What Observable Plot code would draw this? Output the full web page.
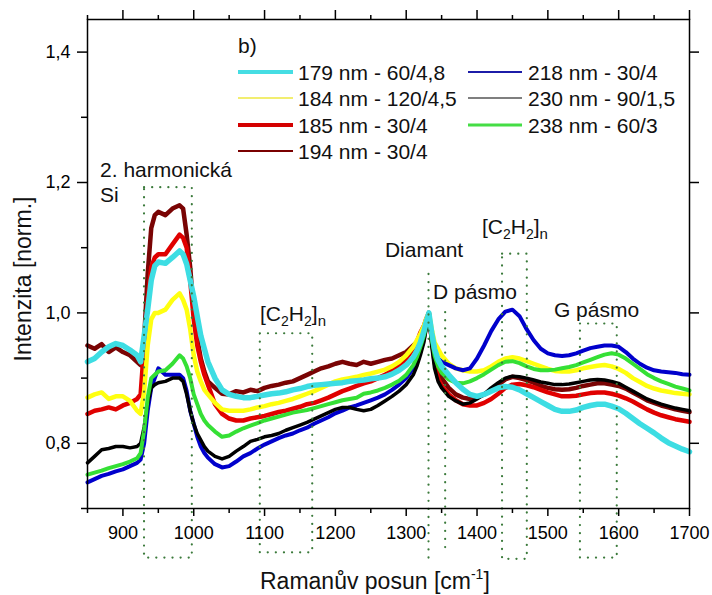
<!DOCTYPE html>
<html><head><meta charset="utf-8">
<script src="https://cdn.jsdelivr.net/npm/d3@7"></script>
<script src="https://cdn.jsdelivr.net/npm/@observablehq/plot@0.6"></script>
<style>
html,body{margin:0;padding:0;background:#fff;}
#chart{position:relative;width:712px;height:595px;overflow:hidden;}
svg{font-family:"Liberation Sans",Arial,sans-serif;}
</style></head><body><div id="chart"></div>
<script>
// Raman shift grid (cm^-1)
const ramanShift = [
  850, 860, 870, 880, 890, 900, 910, 920, 925, 930,
  935, 940, 945, 950, 960, 970, 980, 985, 990, 995,
  1000, 1005, 1010, 1015, 1020, 1030, 1040, 1050, 1060, 1070,
  1080, 1090, 1100, 1110, 1120, 1130, 1140, 1150, 1160, 1170,
  1180, 1190, 1200, 1210, 1220, 1230, 1240, 1250, 1260, 1270,
  1280, 1290, 1300, 1310, 1315, 1320, 1325, 1328, 1332, 1336,
  1340, 1345, 1350, 1360, 1370, 1380, 1390, 1400, 1410, 1420,
  1430, 1440, 1450, 1460, 1470, 1480, 1490, 1500, 1510, 1520,
  1530, 1540, 1550, 1560, 1570, 1580, 1590, 1600, 1610, 1620,
  1630, 1640, 1650, 1660, 1670, 1680, 1690, 1700];

const s179 = [
  0.925, 0.93, 0.94, 0.948, 0.953, 0.95, 0.943, 0.935, 0.925, 0.965,
  1.005, 1.05, 1.072, 1.078, 1.076, 1.085, 1.095, 1.09, 1.075, 1.05,
  1.025, 0.995, 0.965, 0.945, 0.925, 0.9, 0.882, 0.875, 0.872, 0.87,
  0.87, 0.872, 0.874, 0.876, 0.877, 0.879, 0.882, 0.884, 0.887, 0.889,
  0.89, 0.891, 0.892, 0.893, 0.895, 0.896, 0.897, 0.899, 0.9, 0.902,
  0.906, 0.912, 0.92, 0.932, 0.942, 0.955, 0.972, 0.985, 1.0, 0.97,
  0.945, 0.928, 0.918, 0.905, 0.893, 0.883, 0.875, 0.872, 0.875, 0.88,
  0.885, 0.887, 0.886, 0.882, 0.876, 0.87, 0.864, 0.858, 0.852, 0.849,
  0.849, 0.851, 0.855, 0.858, 0.86, 0.86, 0.857, 0.853, 0.846, 0.838,
  0.83, 0.823, 0.816, 0.808, 0.801, 0.796, 0.791, 0.787];

const s184 = [
  0.87, 0.875, 0.878, 0.868, 0.872, 0.872, 0.865, 0.85, 0.845, 0.88,
  0.95, 0.99, 1.0, 1.0, 1.005, 1.02, 1.03, 1.02, 1.005, 0.975,
  0.935, 0.91, 0.895, 0.882, 0.875, 0.862, 0.852, 0.85, 0.85, 0.85,
  0.852, 0.855, 0.857, 0.86, 0.862, 0.865, 0.868, 0.872, 0.876, 0.88,
  0.885, 0.89, 0.895, 0.898, 0.9, 0.902, 0.905, 0.907, 0.91, 0.913,
  0.918, 0.925, 0.935, 0.948, 0.958, 0.968, 0.98, 0.99, 1.0, 0.975,
  0.955, 0.945, 0.935, 0.922, 0.915, 0.912, 0.91, 0.91, 0.912, 0.918,
  0.925, 0.93, 0.932, 0.93, 0.926, 0.922, 0.918, 0.914, 0.911, 0.91,
  0.91, 0.912, 0.915, 0.917, 0.919, 0.92, 0.918, 0.914, 0.908, 0.9,
  0.894, 0.888, 0.884, 0.881, 0.879, 0.877, 0.876, 0.875];

const s185 = [
  0.845, 0.85, 0.852, 0.855, 0.852, 0.858, 0.862, 0.868, 0.875, 0.95,
  1.02, 1.07, 1.085, 1.09, 1.09, 1.105, 1.12, 1.115, 1.1, 1.05,
  0.99, 0.95, 0.925, 0.905, 0.89, 0.86, 0.845, 0.838, 0.835, 0.835,
  0.838, 0.84, 0.842, 0.845, 0.848, 0.85, 0.853, 0.856, 0.86, 0.862,
  0.866, 0.87, 0.875, 0.88, 0.884, 0.888, 0.892, 0.895, 0.9, 0.905,
  0.912, 0.92, 0.93, 0.945, 0.955, 0.97, 0.98, 0.99, 1.0, 0.96,
  0.925, 0.9, 0.888, 0.875, 0.866, 0.86, 0.858, 0.858, 0.862, 0.868,
  0.876, 0.885, 0.89, 0.891, 0.889, 0.886, 0.882, 0.878, 0.875, 0.872,
  0.872, 0.873, 0.875, 0.877, 0.878, 0.878, 0.876, 0.873, 0.869, 0.864,
  0.858, 0.852, 0.847, 0.843, 0.84, 0.837, 0.835, 0.833];

const s194 = [
  0.95, 0.945, 0.952, 0.94, 0.947, 0.94, 0.935, 0.925, 0.92, 0.96,
  1.06, 1.13, 1.15, 1.155, 1.15, 1.16, 1.165, 1.16, 1.12, 1.07,
  1.0, 0.96, 0.93, 0.91, 0.895, 0.885, 0.876, 0.875, 0.88, 0.878,
  0.882, 0.88, 0.885, 0.888, 0.89, 0.893, 0.895, 0.9, 0.905, 0.91,
  0.915, 0.918, 0.922, 0.925, 0.922, 0.92, 0.925, 0.922, 0.925, 0.928,
  0.93, 0.935, 0.94, 0.95, 0.955, 0.965, 0.975, 0.985, 1.0, 0.96,
  0.93, 0.91, 0.9, 0.885, 0.875, 0.87, 0.868, 0.87, 0.875, 0.882,
  0.89, 0.898, 0.902, 0.9, 0.897, 0.893, 0.888, 0.885, 0.883, 0.882,
  0.883, 0.885, 0.888, 0.89, 0.892, 0.892, 0.89, 0.888, 0.884, 0.878,
  0.872, 0.866, 0.862, 0.858, 0.855, 0.852, 0.85, 0.848];

const s218 = [
  0.74, 0.745, 0.75, 0.753, 0.757, 0.76, 0.765, 0.77, 0.775, 0.8,
  0.85, 0.885, 0.9, 0.915, 0.905, 0.905, 0.905, 0.9, 0.88, 0.85,
  0.83, 0.81, 0.795, 0.785, 0.778, 0.768, 0.763, 0.765, 0.772, 0.78,
  0.785, 0.792, 0.798, 0.803, 0.808, 0.812, 0.815, 0.82, 0.824, 0.83,
  0.835, 0.84, 0.846, 0.85, 0.855, 0.858, 0.862, 0.866, 0.87, 0.875,
  0.882, 0.89, 0.9, 0.915, 0.925, 0.94, 0.96, 0.978, 1.0, 0.96,
  0.94, 0.93, 0.925, 0.92, 0.915, 0.912, 0.915, 0.93, 0.95, 0.972,
  0.99, 1.002, 1.005, 0.995, 0.975, 0.958, 0.945, 0.938, 0.935, 0.934,
  0.935, 0.938, 0.942, 0.946, 0.948, 0.95, 0.95, 0.948, 0.94, 0.93,
  0.922, 0.916, 0.912, 0.91, 0.909, 0.908, 0.906, 0.905];

const s230 = [
  0.77, 0.78, 0.79, 0.792, 0.795, 0.795, 0.793, 0.795, 0.8, 0.825,
  0.86, 0.885, 0.89, 0.893, 0.895, 0.9, 0.9, 0.895, 0.875, 0.85,
  0.83, 0.815, 0.805, 0.795, 0.788, 0.78, 0.776, 0.78, 0.788, 0.795,
  0.803, 0.806, 0.81, 0.812, 0.815, 0.82, 0.824, 0.828, 0.832, 0.837,
  0.842, 0.847, 0.852, 0.855, 0.855, 0.852, 0.85, 0.852, 0.858, 0.865,
  0.872, 0.88, 0.89, 0.905, 0.918, 0.935, 0.955, 0.975, 1.0, 0.95,
  0.915, 0.895, 0.885, 0.872, 0.865, 0.86, 0.862, 0.868, 0.875, 0.885,
  0.893, 0.9, 0.903, 0.902, 0.9, 0.897, 0.894, 0.892, 0.89, 0.89,
  0.891, 0.893, 0.895, 0.897, 0.898, 0.897, 0.895, 0.892, 0.886, 0.88,
  0.874, 0.868, 0.864, 0.86, 0.857, 0.854, 0.852, 0.85];

const s238 = [
  0.752, 0.755, 0.758, 0.762, 0.765, 0.768, 0.772, 0.777, 0.785, 0.82,
  0.87, 0.9, 0.905, 0.91, 0.912, 0.922, 0.935, 0.93, 0.918, 0.9,
  0.875, 0.86, 0.845, 0.835, 0.828, 0.818, 0.81, 0.812, 0.818, 0.823,
  0.827, 0.831, 0.835, 0.838, 0.841, 0.844, 0.847, 0.849, 0.851, 0.854,
  0.857, 0.86, 0.863, 0.866, 0.868, 0.87, 0.876, 0.878, 0.881, 0.885,
  0.89, 0.896, 0.905, 0.92, 0.932, 0.948, 0.965, 0.98, 1.0, 0.96,
  0.935, 0.918, 0.908, 0.898, 0.893, 0.892, 0.895, 0.9, 0.906, 0.913,
  0.92, 0.925, 0.926, 0.923, 0.918, 0.914, 0.912, 0.912, 0.913, 0.915,
  0.917, 0.92, 0.924, 0.928, 0.932, 0.936, 0.938, 0.936, 0.93, 0.922,
  0.914, 0.906, 0.9, 0.895, 0.891, 0.887, 0.884, 0.881];

const seriesNames = ["179 nm - 60/4,8", "184 nm - 120/4,5", "185 nm - 30/4", "194 nm - 30/4",
                     "218 nm - 30/4", "230 nm - 90/1,5", "238 nm - 60/3"];
const seriesValues = [s179, s184, s185, s194, s218, s230, s238];
const seriesColors = ["#3ddde3", "#ffff10", "#e00000", "#7a0404", "#0000cc", "#000000", "#35e035"];
const legendColors = ["#45dde3", "#f2ee70", "#d40000", "#7a0000", "#1c1ca8", "#555555", "#45dd45"];

// tick values
const xTicksMajor = [900, 1000, 1100, 1200, 1300, 1400, 1500, 1600, 1700];
const xTicksMinor = [850, 950, 1050, 1150, 1250, 1350, 1450, 1550, 1650];
const yTicksMajor = [0.8, 1.0, 1.2, 1.4];
const yTicksMinor = [0.7, 0.9, 1.1, 1.3];

// annotated regions (cm^-1, intensity)
const boxX1 = [930.5, 1094, 1436, 1546];
const boxX2 = [998, 1168, 1471, 1598];
const boxTop = [1.192, 0.968, 1.09, 0.983];
const boxBottom = [0.624, 0.632, 0.622, 0.624];
const markerX = [1331.5, 1355];
const markerTop = [1.067, 1.006];
const markerBottom = [0.624, 0.64];

const annoText = ["2. harmonická", "Si", "Diamant", "D pásmo", "G pásmo"];
const annoX = [868.4, 868.4, 1270.7, 1338.5, 1509.3];
const annoY = [1.2077, 1.1693, 1.085, 1.0206, 0.993];
const polyX = [1094.3, 1407.7];
const polyY = [0.9868, 1.1203];

const rowsOf = (vals) => ramanShift.map((x, i) => ({x, y: vals[i]}));
const drawOrder = [3, 2, 1, 4, 5, 6, 0];
const strokeWidths = [5.5, 4.5, 4.5, 4.5, 4, 3.5, 4];

const boxes = boxX1.map((x1, i) => ({x1, x2: boxX2[i], y1: boxBottom[i], y2: boxTop[i]}));
const markers = markerX.map((x, i) => ({x, y1: markerBottom[i], y2: markerTop[i]}));

const dotted = {stroke: "#3b7a3b", strokeWidth: 2.2, strokeDasharray: "0.1,8", strokeLinecap: "round"};

const plot = Plot.plot({
  width: 712, height: 595,
  marginLeft: 87, marginRight: 23, marginTop: 19, marginBottom: 87,
  x: {domain: [850, 1700], axis: null},
  y: {domain: [0.7, 1.45], axis: null},
  style: {fontFamily: "'Liberation Sans', Arial, sans-serif", fontSize: "18px", color: "black", background: "white"},
  marks: [
    ...drawOrder.map(k => Plot.line(rowsOf(seriesValues[k]), {
      x: "x", y: "y", stroke: seriesColors[k], strokeWidth: strokeWidths[k], strokeLinejoin: "round"
    })),
    Plot.rect(boxes, {x1: "x1", x2: "x2", y1: "y1", y2: "y2", fill: "none", ...dotted}),
    Plot.ruleX(markers, {x: "x", y1: "y1", y2: "y2", ...dotted}),
    Plot.frame({stroke: "black", strokeWidth: 1.5}),
    Plot.axisX(xTicksMajor, {anchor: "bottom", tickSize: 8, tickPadding: 10, fontSize: 18, tickFormat: d => String(d), label: null, strokeWidth: 1.5}),
    Plot.axisX(xTicksMinor, {anchor: "bottom", tickSize: 5, tickFormat: () => "", label: null, strokeWidth: 1.5}),
    Plot.axisX(xTicksMajor, {anchor: "top", tickSize: 10, tickFormat: () => "", label: null, strokeWidth: 1.5}),
    Plot.axisX(xTicksMinor, {anchor: "top", tickSize: 5, tickFormat: () => "", label: null, strokeWidth: 1.5}),
    Plot.axisY(yTicksMajor, {anchor: "left", tickSize: 10, tickPadding: 7, fontSize: 18, tickFormat: d => d.toFixed(1).replace(".", ","), label: null, strokeWidth: 1.5}),
    Plot.axisY(yTicksMinor, {anchor: "left", tickSize: 6, tickFormat: () => "", label: null, strokeWidth: 1.5}),
    Plot.axisY(yTicksMajor, {anchor: "right", tickSize: 9, tickFormat: () => "", label: null, strokeWidth: 1.5})
  ]
});
document.getElementById("chart").appendChild(plot);

// Overlay: annotations, legend, axis titles
const svg = d3.select(plot);
const X = d3.scaleLinear([850, 1700], [87, 689]);
const Y = d3.scaleLinear([0.7, 1.45], [508, 19]);
const g = svg.append("g")
  .attr("font-family", "'Liberation Sans', Arial, sans-serif")
  .attr("text-anchor", "start")
  .attr("fill", "#111");

annoText.forEach((t, i) => {
  g.append("text").attr("text-anchor", "start").attr("x", X(annoX[i])).attr("y", Y(annoY[i])).attr("font-size", 21).text(t);
});
polyX.forEach((px, i) => {
  const t = g.append("text").attr("text-anchor", "start").attr("x", X(px)).attr("y", Y(polyY[i])).attr("font-size", 21);
  t.append("tspan").text("[C");
  t.append("tspan").attr("font-size", 14).attr("dy", 5).text("2");
  t.append("tspan").attr("dy", -5).text("H");
  t.append("tspan").attr("font-size", 14).attr("dy", 5).text("2");
  t.append("tspan").attr("dy", -5).text("]");
  t.append("tspan").attr("font-size", 15).attr("dy", 5).text("n");
});

// legend
const legendLineX = [[238, 293], [468, 522]];
const legendTextX = [298, 528];
const legendRowY = [72, 98, 125, 151];
const legendCols = [[0, 1, 2, 3], [4, 5, 6]];
const legendWidths = [4, 2, 4, 2, 2, 1.5, 3];
g.append("text").attr("text-anchor", "start").attr("x", 238).attr("y", 53).attr("font-size", 21).text("b)");
legendCols.forEach((col, c) => {
  col.forEach((k, r) => {
    g.append("line").attr("x1", legendLineX[c][0]).attr("x2", legendLineX[c][1])
      .attr("y1", legendRowY[r]).attr("y2", legendRowY[r])
      .attr("stroke", legendColors[k]).attr("stroke-width", legendWidths[k]);
    g.append("text").attr("text-anchor", "start").attr("x", legendTextX[c]).attr("y", legendRowY[r] + 7.5)
      .attr("font-size", 21).text(seriesNames[k]);
  });
});

// axis titles
const xt = g.append("text").attr("text-anchor", "start").attr("x", 260).attr("y", 589).attr("font-size", 23);
xt.append("tspan").text("Ramanův posun [cm");
xt.append("tspan").attr("font-size", 14).attr("dy", -10).text("-1");
xt.append("tspan").attr("dy", 10).text("]");
g.append("text").attr("transform", "translate(31,279) rotate(-90)").attr("text-anchor", "middle")
  .attr("font-size", 23).text("Intenzita [norm.]");
</script>
</body></html>
